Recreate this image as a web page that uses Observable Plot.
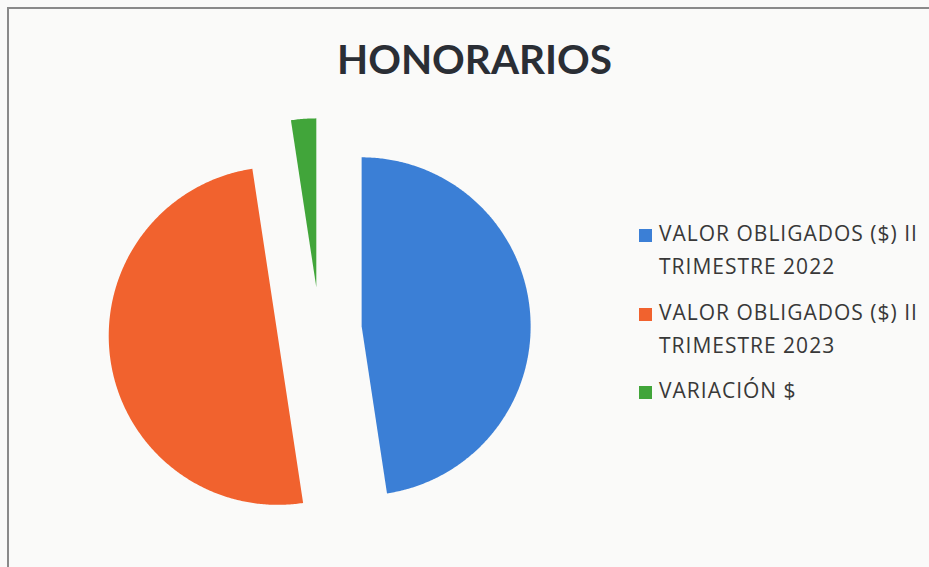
<!DOCTYPE html>
<html>
<head>
<meta charset="utf-8">
<script src="https://cdn.jsdelivr.net/npm/d3@7"></script>
<script src="https://cdn.jsdelivr.net/npm/@observablehq/plot@0.6"></script>
<style>
  html, body { margin: 0; padding: 0; background: #fafaf9; }
  #wrap { position: relative; width: 929px; height: 567px; overflow: hidden; background: #fafaf9; }
  #frame { position: absolute; left: 7px; top: 7px; width: 940px; height: 600px; border-left: 2px solid #8a8a8a; border-top: 2px solid #8a8a8a; box-sizing: border-box; }
  #title { position: absolute; left: 0; width: 949px; top: 35px; text-align: center; font-family: Lato, "Open Sans", sans-serif; font-weight: 700; font-size: 40.5px; color: #2a2e35; line-height: 48px; }
  #plot { position: absolute; left: 0; top: 0; }
  .leg { position: absolute; left: 639px; font-family: "Open Sans", Lato, sans-serif; font-size: 21px; letter-spacing: 1px; color: #383838; line-height: 33px; white-space: nowrap; }
  .leg .sw { position: absolute; left: 0; top: 12px; width: 13px; height: 13px; }
  .leg .tx { margin-left: 20px; }
</style>
</head>
<body>
<div id="wrap">
  <div id="frame"></div>
  <div id="title"></div>
  <div id="plot"></div>
</div>
<script>
const title = "HONORARIOS";
const categories = ["VALOR OBLIGADOS ($) II TRIMESTRE 2022", "VALOR OBLIGADOS ($) II TRIMESTRE 2023", "VARIACIÓN $"];
const legendLines = [["VALOR OBLIGADOS ($) II", "TRIMESTRE 2022"], ["VALOR OBLIGADOS ($) II", "TRIMESTRE 2023"], ["VARIACIÓN $"]];
const values = [47.6, 50.0, 2.4];
const colors = ["#3b7fd6", "#f1622e", "#41a53a"];
const explode = 0.25;

document.getElementById("title").textContent = title;

// Build slice polygons from the data with d3.pie (angles clockwise from 12 o'clock)
const arcs = d3.pie().sort(null).value(d => d)(values);
const slices = arcs.map((a, i) => {
  const mid = (a.startAngle + a.endAngle) / 2;
  const ox = explode * Math.sin(mid), oy = explode * Math.cos(mid);
  const pts = [{x: ox, y: oy, cat: categories[i]}];
  const n = Math.max(4, Math.ceil((a.endAngle - a.startAngle) / (Math.PI / 360)));
  for (let k = 0; k <= n; k++) {
    const t = a.startAngle + (a.endAngle - a.startAngle) * k / n;
    pts.push({x: ox + Math.sin(t), y: oy + Math.cos(t), cat: categories[i]});
  }
  pts.push({x: ox, y: oy, cat: categories[i]});
  return pts;
});

const chart = Plot.plot({
  width: 929,
  height: 567,
  margin: 0,
  x: {domain: [-1, 1], range: [150, 488], axis: null},
  y: {domain: [-1, 1], range: [498, 160], axis: null},
  style: {background: "transparent"},
  marks: slices.map((pts, i) => Plot.line(pts, {x: "x", y: "y", fill: colors[i], stroke: "none", curve: "linear"}))
});
document.getElementById("plot").appendChild(chart);

// Legend
const wrap = document.getElementById("wrap");
const legTops = [217, 296, 374];
legendLines.forEach((lines, i) => {
  const div = document.createElement("div");
  div.className = "leg";
  div.style.top = legTops[i] + "px";
  const sw = document.createElement("div");
  sw.className = "sw";
  sw.style.background = colors[i];
  div.appendChild(sw);
  lines.forEach(l => {
    const t = document.createElement("div");
    t.className = "tx";
    t.textContent = l;
    div.appendChild(t);
  });
  wrap.appendChild(div);
});
</script>
</body>
</html>
